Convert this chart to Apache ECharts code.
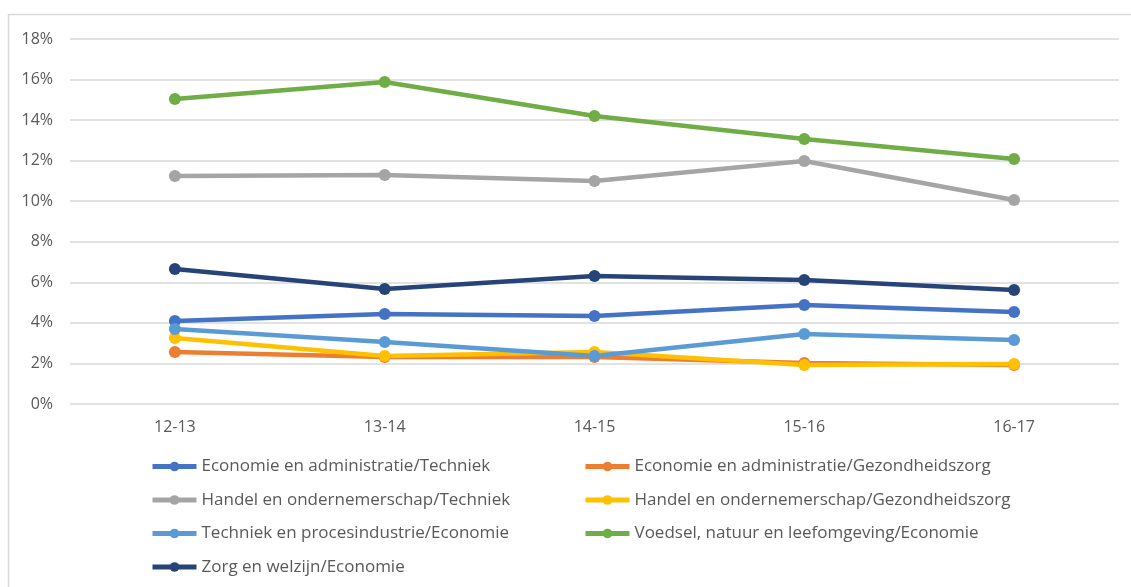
<!DOCTYPE html>
<html>
<head>
<meta charset="utf-8">
<script src="https://cdn.jsdelivr.net/npm/echarts@6/dist/echarts.min.js"></script>
<style>
    html, body { margin: 0; padding: 0; background: #fff; }
    #main { width: 1131px; height: 587px; }
</style>
</head>
<body>
<div id="main"></div>
<script>
    // schooljaren
    var years = ['12-13', '13-14', '14-15', '15-16', '16-17'];
    var yTicks = [0, 2, 4, 6, 8, 10, 12, 14, 16, 18];

    var names = [
        'Economie en administratie/Techniek',
        'Economie en administratie/Gezondheidszorg',
        'Handel en ondernemerschap/Techniek',
        'Handel en ondernemerschap/Gezondheidszorg',
        'Techniek en procesindustrie/Economie',
        'Voedsel, natuur en leefomgeving/Economie',
        'Zorg en welzijn/Economie'
    ];
    var colors = ['#4472C4', '#ED7D31', '#A5A5A5', '#FFC000', '#5B9BD5', '#70AD47', '#264478'];

    // percentages
    var ecoTech = [4.09, 4.44, 4.34, 4.88, 4.54];
    var ecoGez = [2.56, 2.32, 2.32, 2.02, 1.92];
    var handelTech = [11.24, 11.29, 11.0, 11.98, 10.06];
    var handelGez = [3.25, 2.37, 2.56, 1.92, 1.97];
    var techEco = [3.7, 3.06, 2.37, 3.45, 3.16];
    var voedselEco = [15.04, 15.88, 14.2, 13.07, 12.08];
    var zorgEco = [6.66, 5.67, 6.31, 6.11, 5.62];

    var allData = [ecoTech, ecoGez, handelTech, handelGez, techEco, voedselEco, zorgEco];

    var myChart = echarts.init(document.getElementById('main'));

    var series = [];
    for (var i = 0; i < names.length; i++) {
        series.push({
            name: names[i],
            type: 'line',
            data: allData[i],
            symbol: 'circle',
            symbolSize: 12,
            lineStyle: { width: 4.5, color: colors[i] },
            itemStyle: { color: colors[i] },
            emphasis: { disabled: true }
        });
    }

    var legendCommon = {
        orient: 'vertical',
        top: 458,
        height: 200,
        padding: 0,
        itemWidth: 44, itemHeight: 12, itemGap: 16.5,
        lineStyle: { width: 5 },
        textStyle: { fontFamily: 'Open Sans', fontSize: 17, color: '#595959', padding: [0, 0, 0, 0] }
    };

    var option = {
        animation: false,
        color: colors,
        textStyle: { fontFamily: 'Open Sans' },
        graphic: [{
            type: 'rect',
            shape: { x: 8.5, y: 14.5, width: 1140, height: 600 },
            style: { fill: null, stroke: '#d9d9d9', lineWidth: 1.5 },
            silent: true
        }],
        grid: { left: 70, right: 12, top: 39, bottom: 183 },
        legend: [
            Object.assign({ data: [names[0], names[2], names[4], names[6]], left: 150 }, legendCommon),
            Object.assign({ data: [names[1], names[3], names[5]], left: 583 }, legendCommon)
        ],
        xAxis: {
            type: 'category',
            data: years,
            boundaryGap: true,
            axisLine: { show: false },
            axisTick: { show: false },
            axisLabel: { color: '#595959', fontSize: 16, margin: 15 }
        },
        yAxis: {
            type: 'value',
            min: yTicks[0],
            max: yTicks[yTicks.length - 1],
            interval: 2,
            axisLine: { show: false },
            axisTick: { show: false },
            axisLabel: { color: '#595959', fontSize: 16, margin: 17, formatter: '{value}%' },
            splitLine: { lineStyle: { color: '#d9d9d9', width: 1.5 } }
        },
        series: series
    };

    myChart.setOption(option);
</script>
</body>
</html>
